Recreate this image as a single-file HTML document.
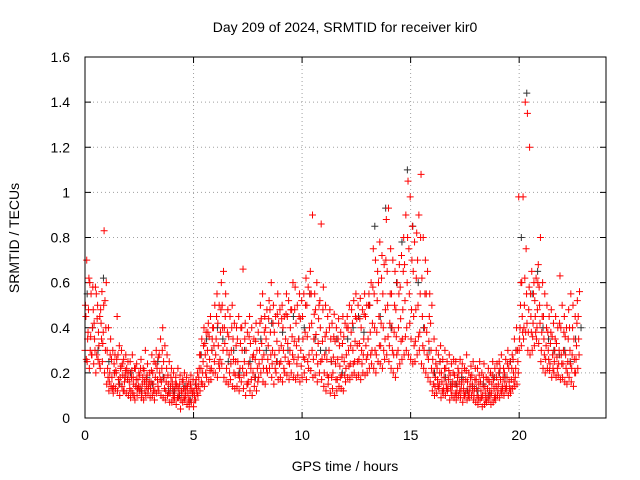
<!DOCTYPE html>
<html><head><meta charset="utf-8"><style>
html,body{margin:0;padding:0;background:#fff;}
svg{display:block;font-family:"Liberation Sans",sans-serif;}
</style></head><body>
<svg id="chart" width="640" height="480">
<text x="345" y="32" text-anchor="middle" font-size="14">Day 209 of 2024, SRMTID for receiver kir0</text>
<text x="345" y="471" text-anchor="middle" font-size="14">GPS time / hours</text>
<text x="0" y="0" transform="translate(19,238) rotate(-90)" text-anchor="middle" font-size="14">SRMTID / TECUs</text>
<g id="grid"></g><g id="ticks"></g><g id="marks"></g>
<rect x="85" y="57" width="521" height="361" fill="none" stroke="#000"/>
</svg>
<script>
const xTicks=[0,5,10,15,20];
const yTicks=[0,0.2,0.4,0.6,0.8,1,1.2,1.4,1.6];
const yTickLabels=["0","0.2","0.4","0.6","0.8","1","1.2","1.4","1.6"];
const slotHours=0.1;
const redHi=[.70,.62,.55,.48,.58,.50,.45,.56,.83,.60,.40,.35,.30,.28,.45,.32,.30,.26,.28,.25,.25,.28,.22,.24,.20,.26,.22,.30,.24,.20,.28,.25,.30,.27,.35,.40,.32,.28,.25,.22,.20,.18,.22,.19,.17,.20,.18,.16,.19,.17,.15,.20,.28,.35,.40,.38,.42,.45,.40,.50,.55,.50,.60,.65,.55,.48,.45,.50,.42,.40,.45,.40,.66,.42,.38,.45,.40,.35,.42,.38,.50,.55,.45,.48,.52,.60,.50,.45,.55,.48,.50,.45,.55,.52,.48,.60,.58,.50,.55,.52,.55,.62,.58,.65,.90,.55,.60,.50,.86,.58,.50,.45,.48,.42,.46,.40,.44,.38,.45,.42,.45,.50,.48,.52,.55,.50,.53,.48,.55,.50,.55,.60,.75,.70,.65,.78,.72,.68,.88,.93,.75,.70,.65,.60,.68,.72,.80,.90,1.05,.98,.85,.78,.82,.90,1.08,.80,.70,.65,.55,.50,.35,.30,.28,.32,.26,.30,.25,.28,.24,.26,.25,.22,.26,.24,.22,.28,.20,.23,.25,.22,.22,.25,.20,.24,.18,.22,.20,.25,.22,.24,.25,.28,.22,.26,.30,.25,.28,.35,.40,.98,.60,.98,1.40,1.35,1.20,.65,.60,.62,.68,.80,.60,.55,.50,.45,.48,.42,.45,.40,.63,.50,.45,.40,.48,.55,.50,.45,.52,.56];
const redMid=[.45,.38,.30,.40,.35,.28,.32,.42,.38,.30,.22,.20,.18,.24,.20,.17,.22,.19,.18,.20,.16,.18,.15,.14,.17,.13,.15,.16,.14,.15,.16,.15,.18,.17,.20,.22,.18,.16,.15,.14,.13,.12,.14,.11,.12,.13,.10,.11,.12,.10,.10,.13,.18,.22,.25,.28,.30,.26,.30,.32,.35,.32,.38,.40,.33,.30,.28,.30,.26,.25,.25,.22,.30,.25,.20,.24,.22,.20,.26,.22,.30,.33,.28,.35,.32,.38,.30,.28,.34,.30,.32,.30,.35,.33,.30,.36,.34,.32,.35,.30,.35,.38,.36,.40,.42,.35,.37,.33,.40,.34,.28,.26,.30,.25,.27,.24,.26,.23,.27,.25,.28,.30,.32,.30,.34,.32,.33,.30,.35,.32,.35,.38,.42,.40,.38,.45,.42,.40,.48,.50,.42,.40,.38,.36,.40,.44,.48,.52,.60,.55,.48,.45,.48,.50,.55,.45,.40,.38,.34,.30,.20,.18,.17,.20,.16,.18,.15,.17,.14,.16,.15,.14,.16,.15,.13,.17,.12,.14,.15,.13,.13,.15,.12,.14,.11,.13,.12,.15,.13,.14,.15,.17,.14,.16,.18,.16,.17,.20,.22,.25,.40,.45,.50,.55,.48,.45,.42,.45,.48,.50,.38,.35,.32,.30,.33,.28,.30,.27,.30,.28,.30,.28,.25,.30,.28,.26,.32,.35];
const redLo=[.30,.25,.22,.28,.24,.20,.26,.22,.25,.20,.15,.12,.14,.11,.13,.12,.10,.14,.12,.11,.10,.09,.11,.08,.10,.12,.09,.08,.10,.11,.09,.10,.08,.11,.12,.10,.09,.08,.10,.07,.07,.08,.06,.09,.04,.07,.08,.06,.05,.07,.05,.08,.10,.12,.15,.14,.18,.16,.17,.20,.20,.18,.22,.24,.18,.16,.15,.17,.14,.13,.14,.12,.16,.13,.10,.15,.12,.10,.14,.12,.18,.20,.16,.15,.20,.22,.18,.15,.20,.17,.18,.16,.20,.19,.17,.20,.18,.17,.19,.16,.18,.20,.17,.22,.21,.18,.19,.16,.20,.17,.14,.12,.15,.11,.13,.10,.12,.14,.13,.12,.16,.18,.17,.19,.20,.18,.19,.17,.20,.19,.20,.22,.24,.22,.20,.25,.24,.22,.26,.28,.25,.22,.20,.18,.22,.24,.26,.28,.30,.28,.26,.24,.25,.28,.30,.24,.22,.20,.18,.16,.12,.10,.11,.13,.09,.11,.10,.12,.08,.10,.09,.08,.10,.09,.07,.10,.08,.09,.10,.08,.07,.06,.08,.05,.06,.07,.08,.06,.07,.08,.10,.09,.11,.10,.12,.10,.11,.13,.14,.15,.30,.32,.35,.38,.30,.28,.30,.32,.35,.33,.25,.22,.20,.22,.21,.18,.20,.18,.19,.17,.18,.16,.15,.18,.16,.14,.20,.22];
const redExtra1=[.50,.35,.60,.28,.42,.55,.38,.48,.33,.52,.30,.16,.26,.14,.21,.28,.18,.24,.16,.22,.20,.12,.18,.22,.13,.19,.11,.21,.17,.13,.13,.20,.12,.22,.28,.16,.25,.12,.19,.11,.16,.09,.15,.13,.08,.16,.12,.14,.08,.13,.12,.17,.14,.28,.20,.33,.23,.36,.22,.40,.28,.42,.26,.50,.40,.22,.36,.24,.35,.19,.35,.18,.40,.19,.30,.16,.33,.27,.18,.30,.24,.44,.22,.40,.26,.48,.24,.38,.25,.42,.25,.40,.27,.45,.24,.48,.26,.42,.27,.44,.45,.26,.50,.28,.55,.26,.48,.24,.52,.26,.20,.38,.18,.35,.20,.34,.17,.32,.19,.36,.22,.40,.24,.42,.25,.44,.26,.40,.28,.45,.28,.50,.30,.55,.28,.60,.32,.55,.35,.65,.32,.55,.28,.48,.30,.58,.35,.68,.40,.75,.35,.65,.34,.70,.38,.62,.30,.55,.26,.42,.26,.14,.22,.15,.20,.13,.22,.13,.19,.14,.19,.11,.20,.12,.17,.11,.16,.12,.19,.10,.17,.09,.16,.10,.14,.09,.16,.11,.17,.10,.12,.22,.13,.20,.14,.22,.13,.26,.18,.30,.35,.60,.40,.75,.38,.55,.36,.52,.40,.58,.30,.45,.26,.38,.24,.36,.25,.33,.24,.40,.24,.36,.20,.40,.22,.35,.26,.45];
const redExtra2=[.26,.48,.36,.58,.30,.44,.24,.35,.50,.40,.18,.28,.13,.20,.26,.15,.23,.12,.21,.17,.13,.21,.10,.17,.14,.22,.18,.12,.19,.16,.21,.12,.24,.14,.17,.30,.13,.22,.11,.18,.10,.15,.09,.15,.11,.09,.14,.08,.15,.11,.08,.11,.22,.16,.32,.20,.38,.21,.35,.25,.45,.24,.48,.30,.45,.38,.20,.40,.20,.32,.19,.33,.22,.35,.15,.36,.17,.28,.34,.16,.42,.26,.38,.22,.44,.28,.42,.22,.46,.24,.44,.22,.46,.25,.40,.28,.48,.24,.45,.23,.27,.50,.25,.55,.30,.46,.28,.44,.25,.48,.36,.19,.40,.18,.36,.17,.35,.18,.33,.19,.40,.23,.38,.24,.45,.25,.44,.24,.46,.26,.50,.28,.58,.30,.52,.32,.62,.30,.70,.36,.55,.30,.50,.28,.55,.34,.65,.36,.80,.42,.70,.32,.62,.36,.80,.32,.55,.28,.45,.22,.15,.24,.14,.25,.12,.22,.13,.21,.12,.20,.11,.18,.12,.20,.10,.21,.10,.18,.12,.17,.10,.19,.09,.18,.08,.17,.10,.19,.09,.18,.20,.12,.18,.13,.24,.13,.22,.16,.30,.20,.50,.38,.62,.42,.58,.38,.55,.38,.60,.42,.45,.28,.40,.26,.38,.22,.35,.22,.42,.24,.38,.22,.35,.24,.40,.20,.42,.28];
const blackStepHours=0.25;
const blackVals=[.55,.40,.30,.62,.25,.20,.15,.18,.20,.14,.12,.18,.15,.25,.18,.12,.12,.10,.14,.08,.15,.28,.35,.30,.40,.35,.25,.30,.20,.30,.25,.18,.35,.30,.42,.25,.38,.30,.45,.35,.40,.55,.35,.30,.30,.25,.35,.20,.35,.40,.45,.38,.50,.85,.45,.93,.40,.60,.78,1.10,.85,.60,.40,.30,.20,.25,.18,.15,.15,.18,.12,.14,.12,.15,.10,.18,.20,.18,.25,.30,.80,1.44,.55,.65,.40,.35,.30,.28,.30,.25,.35,.40];

const X0=85,X1=606,Y0=418,Y1=57,XMAX=24,YMAX=1.6;
const xs=v=>X0+(X1-X0)*v/XMAX;
const ys=v=>Y0-(Y0-Y1)*v/YMAX;
const NS="http://www.w3.org/2000/svg";
const mk=(t,a,p)=>{const e=document.createElementNS(NS,t);for(const k in a)e.setAttribute(k,a[k]);p.appendChild(e);return e;};
const grid=document.getElementById('grid'),ticks=document.getElementById('ticks'),marks=document.getElementById('marks');
xTicks.forEach(t=>{const x=xs(t);
 if(t>0){const g=mk('line',{x1:x,x2:x,y1:Y0,y2:Y1,stroke:'#a0a0a0','stroke-dasharray':'1,3'},grid);
 
 }
 mk('line',{x1:x,x2:x,y1:Y0,y2:Y0-6,stroke:'#000'},ticks);
 mk('line',{x1:x,x2:x,y1:Y1,y2:Y1+6,stroke:'#000'},ticks);
 const l=mk('text',{x:x,y:Y0+22,'text-anchor':'middle','font-size':14},ticks);l.textContent=t;
 
 });
yTicks.forEach((t,i)=>{const y=ys(t);
 if(t>0&&t<YMAX){const g=mk('line',{x1:X0,x2:X1,y1:y,y2:y,stroke:'#a0a0a0','stroke-dasharray':'1,3'},grid);
 
 }
 mk('line',{x1:X0,x2:X0+6,y1:y,y2:y,stroke:'#000'},ticks);
 mk('line',{x1:X1,x2:X1-6,y1:y,y2:y,stroke:'#000'},ticks);
 const l=mk('text',{x:X0-15,y:y+5,'text-anchor':'end','font-size':14},ticks);l.textContent=yTickLabels[i];
 
 });
function plus(h,v,c,name){const x=xs(h),y=ys(v);
 const p=mk('path',{d:`M${x-3.5},${y}h7M${x},${y-3.5}v7`,stroke:c,'stroke-width':1,fill:'none'},marks);
 
 }
blackVals.forEach((v,i)=>plus(i*blackStepHours+0.1,v,'#333','black-point'));
redLo.forEach((v,i)=>plus(i*slotHours,v,'#f00','red-point'));
redExtra1.forEach((v,i)=>plus(i*slotHours+0.02,v,'#f00','red-point'));
redMid.forEach((v,i)=>plus(i*slotHours+0.04,v,'#f00','red-point'));
redExtra2.forEach((v,i)=>plus(i*slotHours+0.06,v,'#f00','red-point'));
redHi.forEach((v,i)=>plus(i*slotHours+0.08,v,'#f00','red-point'));
</script>
</body></html>
